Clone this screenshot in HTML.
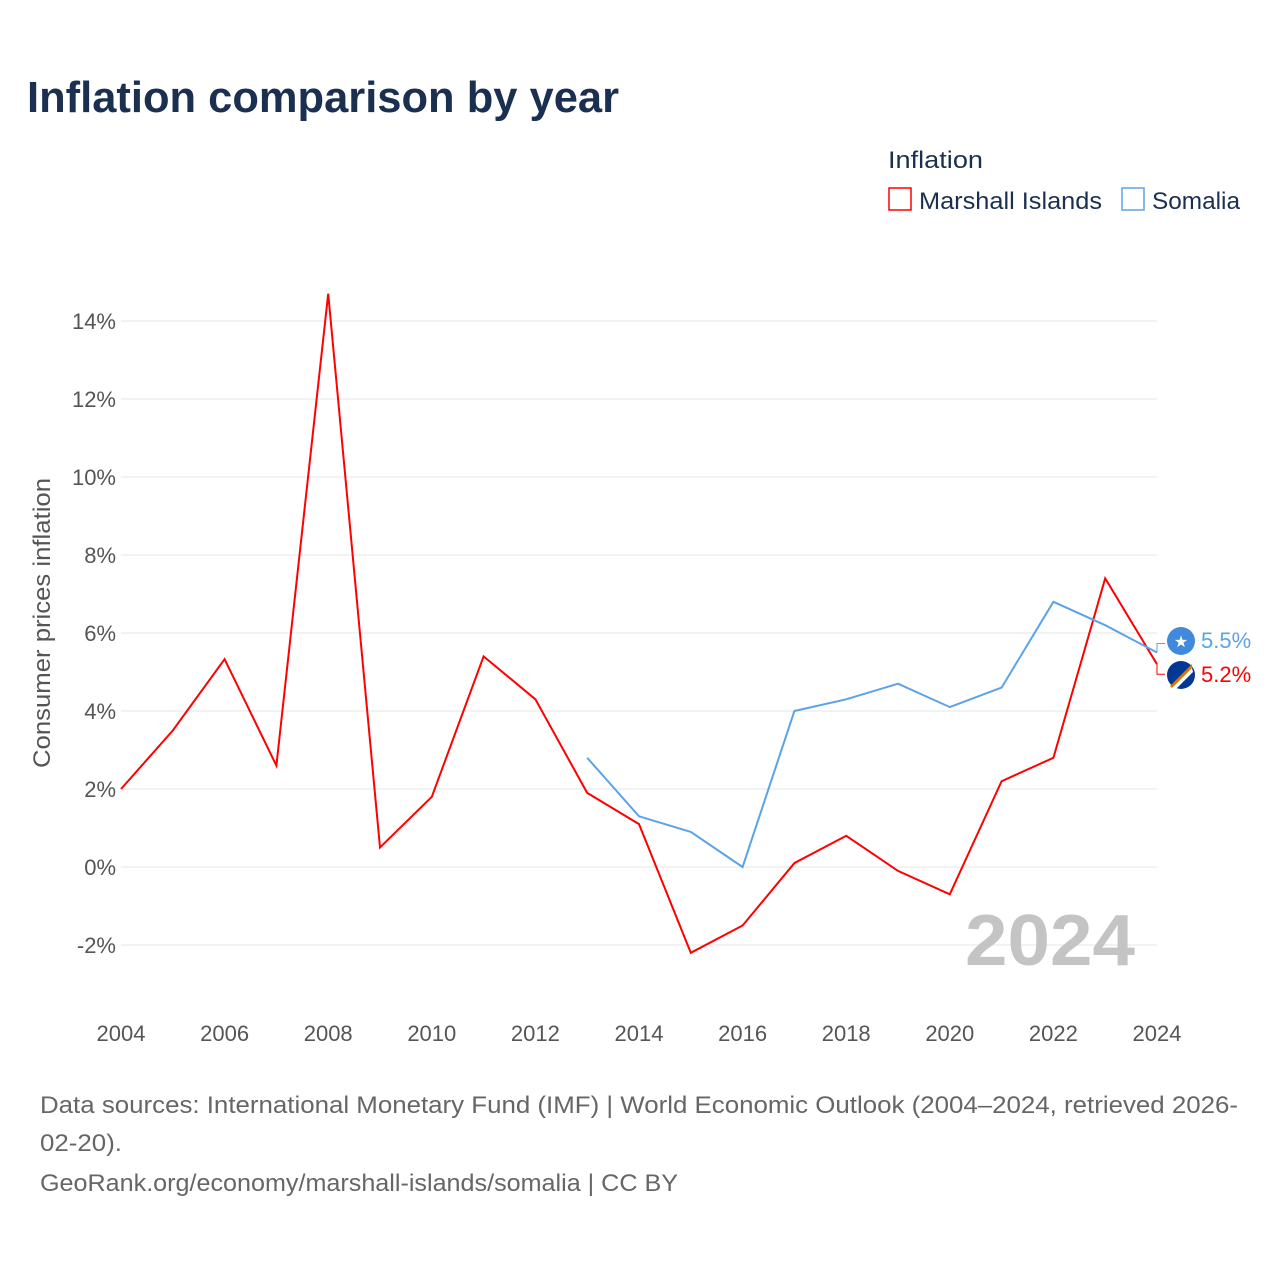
<!DOCTYPE html>
<html><head><meta charset="utf-8"><style>
body{margin:0;background:#fff;width:1280px;height:1280px;overflow:hidden;font-family:"Liberation Sans",sans-serif}
</style></head><body>
<svg width="1280" height="1280" xmlns="http://www.w3.org/2000/svg" font-family="Liberation Sans, sans-serif">
<text x="27" y="112" font-size="44" font-weight="bold" fill="#1b3050" textLength="592" lengthAdjust="spacingAndGlyphs">Inflation comparison by year</text>
<text x="888" y="168" font-size="24" fill="#1b3050" textLength="95" lengthAdjust="spacingAndGlyphs">Inflation</text>
<g><rect x="889" y="188" width="22" height="22" fill="none" stroke="#f00" stroke-width="1.5"/><text x="919" y="209" font-size="24" fill="#1b3050" textLength="183" lengthAdjust="spacingAndGlyphs">Marshall Islands</text></g>
<g><rect x="1122" y="188" width="22" height="22" fill="none" stroke="#5ba3e8" stroke-width="1.5"/><text x="1152" y="209" font-size="24" fill="#1b3050" textLength="88" lengthAdjust="spacingAndGlyphs">Somalia</text></g>
<g id="grid"></g>
<text transform="translate(50,623) rotate(-90)" text-anchor="middle" font-size="24" fill="#555" textLength="290" lengthAdjust="spacingAndGlyphs">Consumer prices inflation</text>
<text x="1135" y="965" text-anchor="end" font-size="72" font-weight="bold" fill="#c4c4c4" textLength="170" lengthAdjust="spacingAndGlyphs">2024</text>
<g id="lines"></g>
<g id="ends"></g>
<text x="40" y="1113" font-size="24" fill="#666" textLength="1198" lengthAdjust="spacingAndGlyphs">Data sources: International Monetary Fund (IMF) | World Economic Outlook (2004–2024, retrieved 2026-</text>
<text x="40" y="1151" font-size="24" fill="#666" textLength="82" lengthAdjust="spacingAndGlyphs">02-20).</text>
<text x="40" y="1191" font-size="24" fill="#666" textLength="638" lengthAdjust="spacingAndGlyphs">GeoRank.org/economy/marshall-islands/somalia | CC BY</text>
</svg>
<script>
const years=[2004,2005,2006,2007,2008,2009,2010,2011,2012,2013,2014,2015,2016,2017,2018,2019,2020,2021,2022,2023,2024];
const marshall=[2.0,3.5,5.33,2.6,14.7,0.5,1.8,5.4,4.3,1.9,1.1,-2.2,-1.5,0.1,0.8,-0.1,-0.7,2.2,2.8,7.4,5.2];
const somaliaYears=[2013,2014,2015,2016,2017,2018,2019,2020,2021,2022,2023,2024];
const somalia=[2.8,1.3,0.9,0.0,4.0,4.3,4.7,4.1,4.6,6.8,6.2,5.5];
const yTicks=[-2,0,2,4,6,8,10,12,14];
const xTicks=[2004,2006,2008,2010,2012,2014,2016,2018,2020,2022,2024];
const NS="http://www.w3.org/2000/svg";
const X=y=>121+(y-2004)*(1157-121)/20;
const Y=v=>867-v*39;
function mk(t,a,p){const e=document.createElementNS(NS,t);for(const k in a)e.setAttribute(k,a[k]);p.appendChild(e);return e;}
const grid=document.getElementById('grid');
yTicks.forEach(v=>{
 const l=mk('line',{x1:121,x2:1157,y1:Y(v),y2:Y(v),stroke:'#e6e6e6','stroke-width':1},grid);
 
 
 const t=mk('text',{x:116,y:Y(v)+8,'text-anchor':'end','font-size':22,fill:'#555'},grid);
 t.textContent=v+'%';
 
 
});
xTicks.forEach(y=>{
 const t=mk('text',{x:X(y),y:1041,'text-anchor':'middle','font-size':22,fill:'#555'},grid);
 t.textContent=y;
 
 
});
const lines=document.getElementById('lines');
const pm=mk('polyline',{points:years.map((y,i)=>X(y)+','+Y(marshall[i])).join(' '),fill:'none',stroke:'#f00','stroke-width':2},lines);


const ps=mk('polyline',{points:somaliaYears.map((y,i)=>X(y)+','+Y(somalia[i])).join(' '),fill:'none',stroke:'#5ba3e8','stroke-width':2},lines);


const ends=document.getElementById('ends');
const sv=somalia[somalia.length-1], mv=marshall[marshall.length-1];
mk('polyline',{points:`1157,${Y(sv)} 1157,${Y(sv)-9} 1165,${Y(sv)-9}`,fill:'none',stroke:'#5ba3e8','stroke-width':1},ends);
mk('polyline',{points:`1157,${Y(mv)} 1157,${Y(mv)+10} 1165,${Y(mv)+10}`,fill:'none',stroke:'#f00','stroke-width':1},ends);
const c1=mk('circle',{cx:1181,cy:641,r:14,fill:'#4189dd'},ends);


const st=mk('text',{x:1181,y:647,'text-anchor':'middle','font-size':16,fill:'#fff'},ends);st.textContent='★';
const c2=mk('circle',{cx:1181,cy:675,r:14,fill:'#003893'},ends);


mk('path',{d:'M1170,686 L1192,664 L1192,668 L1172,688 Z',fill:'#dd7500'},ends);
mk('path',{d:'M1172,688 L1192,668 L1193,672 L1176,689 Z',fill:'#fff'},ends);
const l1=mk('text',{x:1201,y:648,'font-size':22,fill:'#5ba3e8'},ends);l1.textContent=sv.toFixed(1)+'%';


const l2=mk('text',{x:1201,y:682,'font-size':22,fill:'#f00'},ends);l2.textContent=mv.toFixed(1)+'%';


</script>
</body></html>
